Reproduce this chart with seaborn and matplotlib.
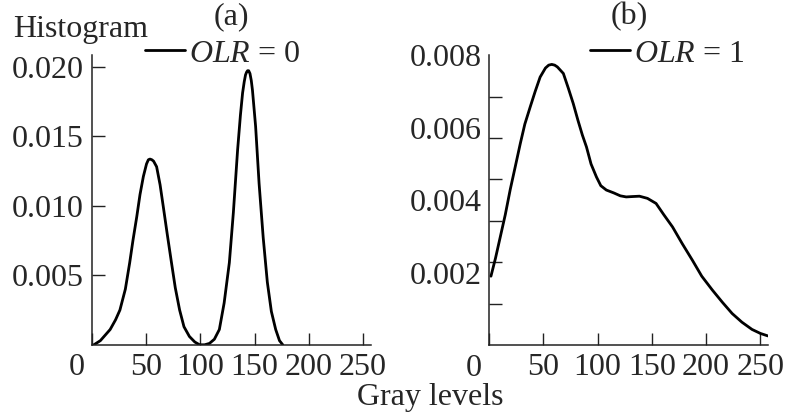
import numpy as np
import pandas as pd
import matplotlib
matplotlib.use("Agg")
import matplotlib.pyplot as plt
import seaborn as sns

# ---- data ----
olr0_x = [2, 8, 17, 22, 26, 31, 35, 38, 41.5, 44.5, 47.6, 50.5, 52.2, 53.7, 55.4, 57, 59.8, 63,
          66, 69.5, 73.5, 77, 81, 85, 90, 95, 99.4, 104, 108.5, 113, 117.6, 122, 126.8, 130.5,
          134.4, 137, 139, 140.5, 141.7, 142.7, 143.6, 144.6, 145.8, 147, 148.1, 151, 154.2,
          158, 161.8, 165.5, 169.5, 173, 176]
olr0_y = [0.0000, 0.0003, 0.0011, 0.0018, 0.0025, 0.0040, 0.0059, 0.0075, 0.0092, 0.0108,
          0.0121, 0.0130, 0.0133, 0.01335, 0.0133, 0.0132, 0.0128, 0.0115, 0.0099, 0.0080,
          0.0059, 0.0041, 0.0025, 0.0013, 0.0006, 0.0002, 0.0000, 0.0000, 0.0001, 0.0004,
          0.0011, 0.0030, 0.0059, 0.0095, 0.0140, 0.0165, 0.0181, 0.0189, 0.0194, 0.0196,
          0.0197, 0.0197, 0.0195, 0.0190, 0.0183, 0.0157, 0.0116, 0.0077, 0.0045, 0.0024,
          0.0011, 0.0003, 0.0000]

olr1_x = [1.8, 6, 10.5, 15, 19.6, 24, 28.8, 33, 37.9, 42.5, 47.1, 52, 55, 57.8, 60.5, 63, 68.5,
          73, 77.6, 82, 86, 89.8, 94, 99, 103, 108.1, 115, 121, 126.4, 132, 138.6, 146, 153.9,
          161, 169.1, 178, 187.4, 196, 205.7, 215, 224, 233, 242.3, 250, 257]
olr1_y = [0.0019, 0.0024, 0.0030, 0.0036, 0.0043, 0.0049, 0.00556, 0.0061, 0.00657, 0.0070,
          0.0074, 0.00765, 0.00773, 0.00775, 0.00773, 0.00768, 0.0075, 0.0071, 0.00667,
          0.0062, 0.0058, 0.00547, 0.0050, 0.00464, 0.0044, 0.00428, 0.0042, 0.00412,
          0.00409, 0.0041, 0.00411, 0.00405, 0.00391, 0.0036, 0.00326, 0.0028, 0.00234,
          0.0019, 0.00152, 0.00118, 0.00087, 0.00063, 0.00043, 0.00032, 0.00025]

x_ticks = [0, 50, 100, 150, 200, 250]
x_ticklabels = ["", "50", "100", "150", "200", "250"]
a_yticks = [0.005, 0.010, 0.015, 0.020]
a_yticklabels = ["0.005", "0.010", "0.015", "0.020"]
b_yticks = [0.002, 0.004, 0.006, 0.008]
b_yticklabels = ["0.002", "0.004", "0.006", "0.008"]
b_minor_count = 7
panel_titles = ["(a)", "(b)"]
legend_labels = [r"$\mathit{OLR}$ = 0", r"$\mathit{OLR}$ = 1"]

# ---- style ----
sns.set_style("ticks")
plt.rcParams["font.family"] = ["Liberation Serif", "DejaVu Serif"]
plt.rcParams["mathtext.fontset"] = "custom"
plt.rcParams["mathtext.rm"] = "Liberation Serif"
plt.rcParams["mathtext.it"] = "Liberation Serif:italic"
plt.rcParams["lines.solid_joinstyle"] = "round"
plt.rcParams["lines.solid_capstyle"] = "round"
FS = 23

W, H = 789, 420
fig = plt.figure(figsize=(W / 100, H / 100), dpi=100)

def px_axes(l, r, b, t):
    return fig.add_axes([l / W, 1 - b / H, (r - l) / W, (b - t) / H])

ax_a = px_axes(91.7, 371, 344.8, 55)
ax_b = px_axes(489, 768.3, 345, 55)

df0 = pd.DataFrame({"x": olr0_x, "y": olr0_y})
df1 = pd.DataFrame({"x": olr1_x, "y": olr1_y})
sns.lineplot(data=df0, x="x", y="y", ax=ax_a, color="black", lw=2.0, sort=False,
             label=legend_labels[0])
sns.lineplot(data=df1, x="x", y="y", ax=ax_b, color="black", lw=2.0, sort=False,
             label=legend_labels[1])

for ax in (ax_a, ax_b):
    ax.set_xlim(1.9, 257.3)
    ax.set_xlabel("")
    ax.set_ylabel("")
    for s in ("top", "right"):
        ax.spines[s].set_visible(False)
    for s in ("left", "bottom"):
        ax.spines[s].set_linewidth(1.1)
        ax.spines[s].set_color("#222222")
    ax.set_xticks(x_ticks)
    ax.set_xticklabels(x_ticklabels, fontsize=FS)
    ax.tick_params(axis="x", direction="in", length=8.5, width=1.0, pad=6, color="#222222")
    ax.patch.set_alpha(0)

ax_a.set_ylim(0, 0.02083)
ax_a.set_yticks(a_yticks)
ax_a.set_yticklabels(a_yticklabels, fontsize=FS)
ax_a.tick_params(axis="y", direction="in", length=9, width=1.0, pad=6, color="#222222")

ax_b.set_ylim(0, 0.00801)
ax_b.set_yticks(b_yticks)
ax_b.set_yticklabels(b_yticklabels, fontsize=FS)
ax_b.tick_params(axis="y", which="major", direction="in", length=0, pad=5)
ax_b.set_yticks([0.008 * k / b_minor_count for k in range(1, b_minor_count + 1)], minor=True)
ax_b.tick_params(axis="y", which="minor", direction="in", length=9, width=1.0, color="#222222")

# "0" labels at the corner, offset to the lower left
for ax in (ax_a, ax_b):
    ax.annotate("0", xy=(0, 0), xycoords="axes fraction", xytext=(-15, -23),
                textcoords="offset pixels", ha="center", va="center", fontsize=FS)

# legends
for ax, xpx in ((ax_a, 145), (ax_b, 590)):
    ax.legend(loc="center left", bbox_to_anchor=(xpx / W, 1 - 54 / H),
              bbox_transform=fig.transFigure, frameon=False, fontsize=FS,
              handlelength=1.25, handletextpad=0.12, borderpad=0, borderaxespad=0)

# panel titles and labels
fig.text(231 / W, 1 - 17 / H, panel_titles[0], ha="center", va="center", fontsize=FS)
fig.text(629 / W, 1 - 17 / H, panel_titles[1], ha="center", va="center", fontsize=FS)
fig.text(13 / W, 1 - 37 / H, "Histogram", ha="left", va="baseline", fontsize=FS)
fig.text(430 / W, 1 - 398 / H, "Gray levels", ha="center", va="center", fontsize=FS)

fig.savefig("out.png", dpi=100)
